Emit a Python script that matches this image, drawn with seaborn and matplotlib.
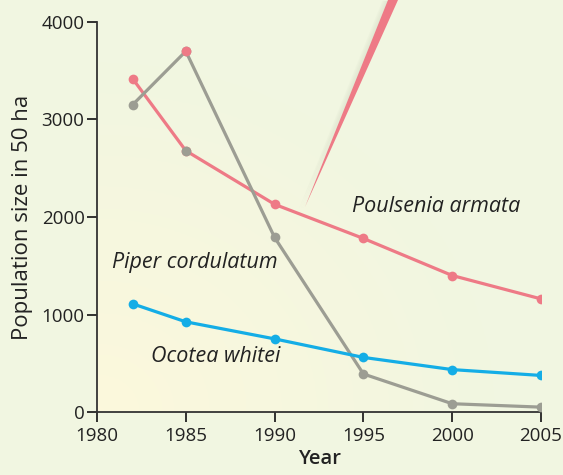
import numpy as np
import pandas as pd
import matplotlib.pyplot as plt
import seaborn as sns
from matplotlib.patches import Polygon

# values
years = [1982, 1985, 1990, 1995, 2000, 2005]
poulsenia = [3420, 2680, 2130, 1780, 1400, 1160]
piper = [3150, 3700, 1790, 390, 85, 50]
ocotea = [1110, 925, 750, 560, 435, 375]

species = ['Poulsenia armata', 'Piper cordulatum', 'Ocotea whitei']
colors = ['#EE7A86', '#9C9D93', '#14ADE6']
xticks = [1980, 1985, 1990, 1995, 2000, 2005]
yticks = [0, 1000, 2000, 3000, 4000]

df = pd.DataFrame({'Year': years * 3,
                   'Population': poulsenia + piper + ocotea,
                   'Species': np.repeat(species, len(years))})

sns.set_theme(style='ticks')
plt.rcParams['font.family'] = ['Open Sans', 'DejaVu Sans']
bg = '#F1F6E1'

fig = plt.figure(figsize=(5.63, 4.75), dpi=100, facecolor=bg)
ax = fig.add_axes([0.1723, 0.1326, 0.7887, 0.8211])
ax.set_facecolor(bg)

# faint yellow glow in the lower left of the plot area
gx, gy = np.meshgrid(np.linspace(0, 1, 200), np.linspace(0, 1, 200))
glow = np.clip(1 - np.sqrt(gx ** 2 + gy ** 2) / 0.9, 0, 1)
rgba = np.zeros((200, 200, 4))
rgba[..., :3] = [1.0, 0.98, 0.86]
rgba[..., 3] = glow * 0.8
ax.imshow(rgba, extent=[1980, 2005, 0, 4000], origin='lower', aspect='auto', zorder=0)

sns.lineplot(data=df, x='Year', y='Population', hue='Species', palette=colors,
             marker='o', markersize=7, markeredgewidth=0, linewidth=2.3,
             legend=False, ax=ax, zorder=3)

# in the original the 1985 dots of the two top series swap colours
ax.plot(years[1], piper[1], 'o', color=colors[0], markersize=7, mew=0, zorder=4)
ax.plot(years[1], poulsenia[1], 'o', color=colors[1], markersize=7, mew=0, zorder=4)

ax.set_xlim(1980, 2005)
ax.set_ylim(0, 4000)
ax.set_xticks(xticks)
ax.set_yticks(yticks)
ax.tick_params(direction='out', length=7, width=1.3, colors='#222222',
               labelsize=13.5, pad=2)
ax.tick_params(axis='x', pad=4)
for s in ['top', 'right']:
    ax.spines[s].set_visible(False)
for s in ['left', 'bottom']:
    ax.spines[s].set_linewidth(1.3)
    ax.spines[s].set_color('#333333')
ax.set_xlabel('Year', fontsize=14.5, fontweight='semibold', labelpad=3, color='#222222')
ax.set_ylabel('Population size in 50 ha', fontsize=16, labelpad=6, color='#222222')

ax.text(1999.1, 2105, 'Poulsenia armata', style='italic', fontsize=15.5,
        ha='center', va='center', color='#222222')
ax.text(1985.5, 1530, 'Piper cordulatum', style='italic', fontsize=15.5,
        ha='center', va='center', color='#222222')
ax.text(1986.7, 565, 'Ocotea whitei', style='italic', fontsize=15.5,
        ha='center', va='center', color='#222222')

# pink pointer wedge coming from the top
W, H = 563, 475
pts = [(388 / W, 1), (398 / W, 1), (305 / W, 1 - 207 / H)]
for k in range(4):
    sh = [(x - (k + 1) * 0.0025, y - 0.002) for x, y in pts]
    fig.patches.append(Polygon(sh, closed=True, transform=fig.transFigure,
                               facecolor='#D5DCC6', edgecolor='none', alpha=0.15))
fig.patches.append(Polygon(pts, closed=True, transform=fig.transFigure,
                           facecolor='#EE7A86', edgecolor='none'))

fig.savefig('out.png', dpi=100, facecolor=bg)
